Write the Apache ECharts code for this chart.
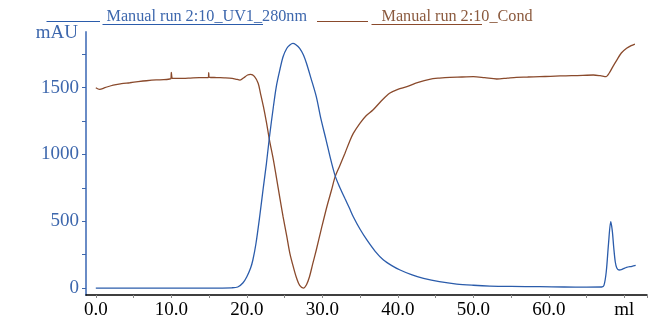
<!DOCTYPE html>
<html>
<head>
<meta charset="utf-8">
<script src="https://cdn.jsdelivr.net/npm/echarts@6/dist/echarts.min.js"></script>
<style>
html,body{margin:0;padding:0;background:#fff;}
#chart{width:655px;height:321px;}
</style>
</head>
<body>
<div id="chart"></div>
<script>
// ---- data ----
const uvX = [0,5,10,15,18,18.8,19.5,20.0,20.5,20.8,21.2,21.7,22.2,22.6,23.0,23.5,23.9,24.4,24.8,25.3,25.7,26.1,26.5,27.0,27.5,27.9,28.5,29.2,29.8,30.5,31.1,31.7,32.3,33.0,33.6,34.1,35.0,35.9,37.0,38.1,39.2,40.3,41.8,43.4,45.5,47.8,50,52.2,55,58.8,62,65,67.0,67.3,67.6,67.9,68.2,68.4,68.6,68.8,69.0,69.3,69.7,70.3,71.0,71.5];
const uvY = [0,0,0,0,2,8,40,85,150,210,330,534,760,934,1133,1350,1507,1640,1732,1795,1820,1832,1822,1795,1745,1683,1570,1433,1270,1108,965,840,755,670,597,534,440,360,275,210,168,135,100,73,48,30,21,15,12,10,8,7,8,20,120,330,497,430,300,195,150,135,140,155,163,170];
const condX = [0,0.5,1.2,2.3,3.4,4.5,5.6,6.7,8.0,9.0,9.8,9.95,10.0,10.1,10.3,11.6,12.5,13.7,14.9,14.95,15.05,16,17,17.7,18.5,19.1,19.6,20.1,20.5,21.0,21.5,21.8,22.2,22.6,23.0,23.5,23.9,24.4,24.8,25.3,25.7,26.2,26.6,27.0,27.5,27.9,28.3,28.7,29.2,29.9,30.6,31.2,31.7,32.3,33.0,33.6,34.1,35.0,35.8,36.7,37.8,38.9,40.0,41.2,42.7,44.2,45.5,46.9,48.5,50.0,51.5,53.1,54.5,55.7,57.2,58.8,60.2,61.5,63,64.5,65.9,66.8,67.6,68.0,68.5,69.0,69.6,70.3,70.9,71.4];
const condY = [1500,1488,1500,1520,1530,1537,1545,1552,1558,1560,1565,1568,1615,1572,1570,1570,1572,1575,1575,1612,1578,1576,1574,1572,1565,1557,1575,1595,1600,1585,1533,1460,1358,1240,1108,965,834,665,534,385,260,150,73,20,0,25,85,175,285,450,609,730,834,914,1010,1096,1158,1235,1290,1333,1400,1458,1488,1508,1540,1563,1572,1578,1580,1583,1575,1565,1572,1578,1580,1583,1585,1588,1590,1592,1595,1590,1583,1610,1660,1707,1760,1795,1815,1827];
const xTickStep = 5;
const xLabelStep = 10;
const xUnitAt = 70;
const yTickStep = 250;
const yLabelStep = 500;
const uvName = 'Manual run 2:10_UV1_280nm';
const condName = 'Manual run 2:10_Cond';
const yUnit = 'mAU';
const xUnit = 'ml';

const BLUE = '#2b5cab';
const BROWN = '#8a4a2c';
const AXBLUE = '#6a8cc6';
const LBLUE = '#3d67ad';

const uvData = uvX.map((x,i)=>[x,uvY[i]]);
const condData = condX.map((x,i)=>[x,condY[i]]);

// geometry: data grid spans x -1.3..73 and y -52..1917
const X0=-1.3, X1=73, Y0=-52, Y1=1917;
const L=86, R=8, T=32, B=26, W=655, H=321;
const pxPerX=(W-L-R)/(X1-X0), pxPerY=(H-T-B)/(Y1-Y0);
const gridL2 = L + (0-X0)*pxPerX;     // where x=0 sits
const gridB2 = B + (0-Y0)*pxPerY;     // where y=0 sits

const chart = echarts.init(document.getElementById('chart'), null, {renderer:'canvas'});
chart.setOption({
  animation:false,
  backgroundColor:'#fff',
  grid:[
    {left:L,right:R,top:T,bottom:B,containLabel:false},
    {left:gridL2,right:R,top:T,bottom:gridB2,containLabel:false}
  ],
  xAxis:[
    {type:'value',gridIndex:0,min:X0,max:X1,
      axisLine:{show:true,onZero:false,lineStyle:{color:'#000',width:1.5}},
      axisTick:{show:false},axisLabel:{show:false},splitLine:{show:false}},
    {type:'value',gridIndex:1,min:0,max:X1,interval:xTickStep,position:'bottom',offset:gridB2-B,
      axisLine:{show:false,onZero:false},
      axisTick:{show:true,length:3,lineStyle:{color:'#888',width:1}},
      axisLabel:{show:true,showMaxLabel:true,margin:6,color:'#000',fontFamily:'Liberation Serif',fontSize:19,
        formatter:v=> v===xUnitAt ? xUnit : (v%xLabelStep===0 ? v.toFixed(1) : '')},
      splitLine:{show:false}}
  ],
  yAxis:[
    {type:'value',gridIndex:0,min:Y0,max:Y1,
      axisLine:{show:true,onZero:false,lineStyle:{color:AXBLUE,width:2}},
      axisTick:{show:false},axisLabel:{show:false},splitLine:{show:false}},
    {type:'value',gridIndex:1,min:0,max:Y1,interval:yTickStep,position:'left',offset:gridL2-L,
      axisLine:{show:false,onZero:false},
      axisTick:{show:true,length:4,lineStyle:{color:LBLUE,width:1}},
      axisLabel:{show:true,showMaxLabel:false,margin:7,color:LBLUE,fontFamily:'Liberation Serif',fontSize:19,
        formatter:v=> (v%yLabelStep===0 ? String(v) : '')},
      splitLine:{show:false}}
  ],
  series:[
    {type:'line',name:condName,xAxisIndex:0,yAxisIndex:0,data:condData,showSymbol:false,smooth:0.3,
      lineStyle:{color:BROWN,width:1.3},z:2},
    {type:'line',name:uvName,xAxisIndex:0,yAxisIndex:0,data:uvData,showSymbol:false,smooth:0.3,
      lineStyle:{color:BLUE,width:1.3},z:3}
  ],
  graphic:[
    {type:'text',x:78,y:33,style:{text:yUnit,fill:LBLUE,font:'19px "Liberation Serif"',align:'right',verticalAlign:'middle'}},
    {type:'line',shape:{x1:46.5,y1:21.5,x2:100,y2:21.5},style:{stroke:BLUE,lineWidth:1}},
    {type:'line',shape:{x1:102.5,y1:24.5,x2:263,y2:24.5},style:{stroke:BLUE,lineWidth:1}},
    {type:'text',x:106.5,y:17,style:{text:uvName,fill:LBLUE,font:'16.2px "Liberation Serif"',align:'left',verticalAlign:'middle'}},
    {type:'line',shape:{x1:317,y1:21.5,x2:368,y2:21.5},style:{stroke:BROWN,lineWidth:1}},
    {type:'line',shape:{x1:371.5,y1:24.5,x2:482,y2:24.5},style:{stroke:BROWN,lineWidth:1}},
    {type:'text',x:381.5,y:17,style:{text:condName,fill:'#8b5a3e',font:'16.2px "Liberation Serif"',align:'left',verticalAlign:'middle'}}
  ]
});
</script>
</body>
</html>
